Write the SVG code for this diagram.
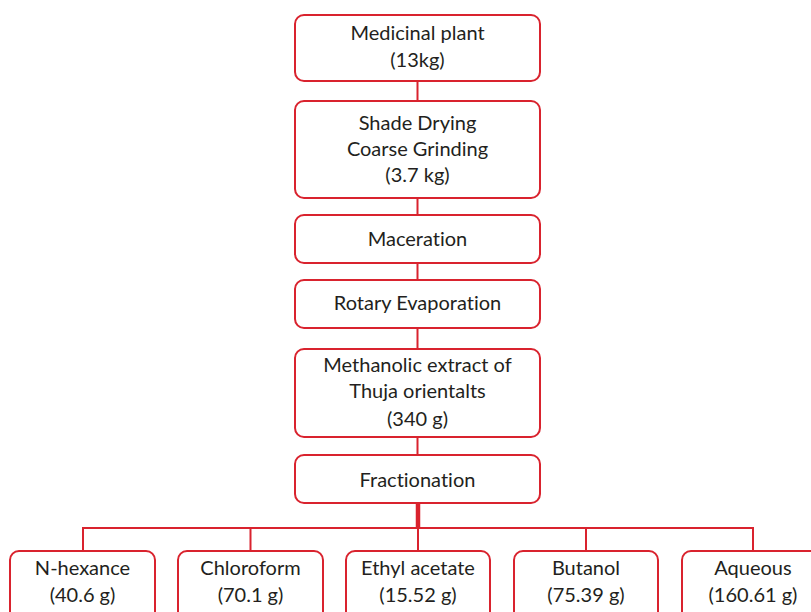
<svg xmlns="http://www.w3.org/2000/svg" width="811" height="612" viewBox="0 0 811 612">
<style>
.box{fill:#fff;stroke:#d9232e;stroke-width:2}
.t{font-family:Lato,"Open Sans","Liberation Sans",sans-serif;font-size:20px;fill:#231f20;text-anchor:middle;font-variant-ligatures:none}
.c{stroke:#d9232e;stroke-width:2;fill:none}
</style>
<rect width="811" height="612" fill="#fff"/>
<g id="connectors">
<line class="c" x1="417.5" y1="81" x2="417.5" y2="101"/>
<line class="c" x1="417.5" y1="198" x2="417.5" y2="215"/>
<line class="c" x1="417.5" y1="263" x2="417.5" y2="280"/>
<line class="c" x1="417.5" y1="328" x2="417.5" y2="349"/>
<line class="c" x1="417.5" y1="437" x2="417.5" y2="455"/>
<line x1="418" y1="503" x2="418" y2="529" stroke="#d9232e" stroke-width="4.5"/>
<polyline class="c" points="83,551 83,528 753,528 753,551"/>
<line class="c" x1="250.5" y1="528" x2="250.5" y2="551"/>
<line class="c" x1="418" y1="528" x2="418" y2="551"/>
<line class="c" x1="586" y1="528" x2="586" y2="551"/>
</g>
<g id="n1"><rect class="box" x="295" y="15" width="245" height="66" rx="9"/>
<text class="t" x="417.5" y="40">Medicinal plant</text><text class="t" x="417.5" y="67">(13kg)</text></g>
<g id="n2"><rect class="box" x="295" y="101" width="245" height="97" rx="9"/>
<text class="t" x="417.5" y="130">Shade Drying</text><text class="t" x="417.5" y="156">Coarse Grinding</text><text class="t" x="417.5" y="182">(3.7 kg)</text></g>
<g id="n3"><rect class="box" x="295" y="215" width="245" height="48" rx="9"/>
<text class="t" x="417.5" y="246">Maceration</text></g>
<g id="n4"><rect class="box" x="295" y="280" width="245" height="48" rx="9"/>
<text class="t" x="417.5" y="310">Rotary Evaporation</text></g>
<g id="n5"><rect class="box" x="295" y="349" width="245" height="88" rx="9"/>
<text class="t" x="417.5" y="372">Methanolic extract of</text><text class="t" x="417.5" y="398">Thuja orientalts</text><text class="t" x="417.5" y="426">(340 g)</text></g>
<g id="n6"><rect class="box" x="295" y="455" width="245" height="48" rx="9"/>
<text class="t" x="417.5" y="487">Fractionation</text></g>
<g id="b1"><rect class="box" x="10" y="551" width="145" height="90" rx="9"/>
<text class="t" x="82.5" y="575">N-hexance</text><text class="t" x="82.5" y="602">(40.6 g)</text></g>
<g id="b2"><rect class="box" x="178" y="551" width="145" height="90" rx="9"/>
<text class="t" x="250.5" y="575">Chloroform</text><text class="t" x="250.5" y="602">(70.1 g)</text></g>
<g id="b3"><rect class="box" x="346" y="551" width="144" height="90" rx="9"/>
<text class="t" x="418" y="575">Ethyl acetate</text><text class="t" x="418" y="602">(15.52 g)</text></g>
<g id="b4"><rect class="box" x="514" y="551" width="144" height="90" rx="9"/>
<text class="t" x="586" y="575">Butanol</text><text class="t" x="586" y="602">(75.39 g)</text></g>
<g id="b5"><rect class="box" x="682" y="551" width="145" height="90" rx="9"/>
<text class="t" x="753" y="575">Aqueous</text><text class="t" x="753" y="602">(160.61 g)</text></g>
</svg>
